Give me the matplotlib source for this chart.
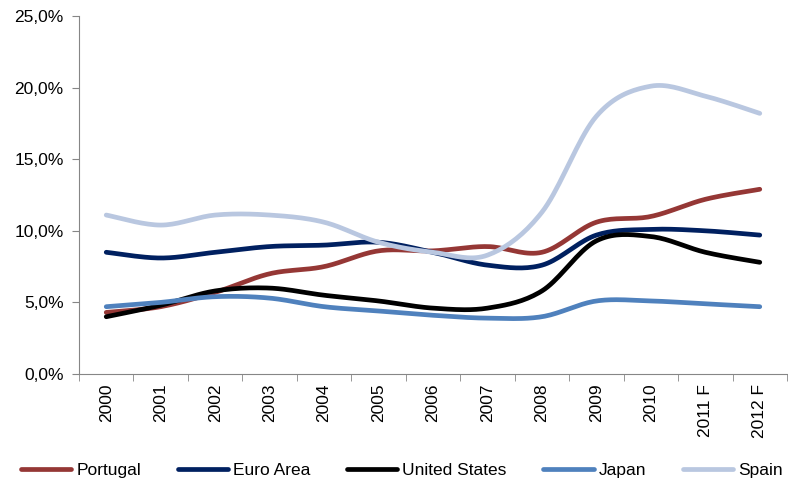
import numpy as np
import matplotlib.pyplot as plt
from matplotlib.ticker import FuncFormatter

years = ["2000", "2001", "2002", "2003", "2004", "2005", "2006", "2007",
         "2008", "2009", "2010", "2011 F", "2012 F"]
portugal = [4.3, 4.7, 5.7, 7.0, 7.5, 8.6, 8.6, 8.9, 8.5, 10.6, 11.0, 12.2, 12.9]
euro_area = [8.5, 8.1, 8.5, 8.9, 9.0, 9.2, 8.5, 7.6, 7.6, 9.7, 10.1, 10.0, 9.7]
united_states = [4.0, 4.8, 5.8, 6.0, 5.5, 5.1, 4.6, 4.6, 5.8, 9.3, 9.6, 8.5, 7.8]
japan = [4.7, 5.0, 5.4, 5.3, 4.7, 4.4, 4.1, 3.9, 4.0, 5.1, 5.1, 4.9, 4.7]
spain = [11.1, 10.4, 11.1, 11.1, 10.6, 9.2, 8.5, 8.3, 11.3, 18.0, 20.1, 19.4, 18.2]

series = [
    ("Portugal", portugal, "#953735"),
    ("Euro Area", euro_area, "#002060"),
    ("United States", united_states, "black"),
    ("Japan", japan, "#4F81BD"),
    ("Spain", spain, "#B9C7E0"),
]


def smooth(x, y, n=20):
    # Excel-style smoothed line: cubic bezier with catmull-rom control points
    x = np.asarray(x, float)
    y = np.asarray(y, float)
    px = np.concatenate([[x[0]], x, [x[-1]]])
    py = np.concatenate([[y[0]], y, [y[-1]]])
    xs, ys = [], []
    t = np.linspace(0, 1, n)
    for i in range(len(x) - 1):
        p0 = np.array([px[i + 1], py[i + 1]])
        p3 = np.array([px[i + 2], py[i + 2]])
        c1 = p0 + (np.array([px[i + 2], py[i + 2]]) - np.array([px[i], py[i]])) / 6
        c2 = p3 - (np.array([px[i + 3], py[i + 3]]) - np.array([px[i + 1], py[i + 1]])) / 6
        b = ((1 - t) ** 3)[:, None] * p0 + (3 * (1 - t) ** 2 * t)[:, None] * c1 \
            + (3 * (1 - t) * t ** 2)[:, None] * c2 + (t ** 3)[:, None] * p3
        xs.extend(b[:, 0])
        ys.extend(b[:, 1])
    return np.array(xs), np.array(ys)


plt.rcParams['font.family'] = ['Liberation Sans', 'DejaVu Sans']

fig = plt.figure(figsize=(7.88, 4.86), dpi=100)
ax = fig.add_axes([79 / 788, 1 - 374 / 486, 708 / 788, 358 / 486])

x = np.arange(len(years))
for name, vals, col in series:
    sx, sy = smooth(x, vals)
    ax.plot(sx, sy, color=col, lw=3.4, label=name, solid_capstyle="round")

ax.set_xlim(-0.5, len(years) - 0.5)
ax.set_ylim(0, 25)
ax.set_yticks(np.arange(0, 26, 5))
ax.yaxis.set_major_formatter(FuncFormatter(lambda v, p: f"{v:.1f}%".replace(".", ",")))
ax.set_xticks(x)
ax.set_xticklabels(years, rotation=90)
ax.set_xticks(np.arange(-0.5, len(years), 1), minor=True)
ax.tick_params(axis="x", which="major", length=0, pad=7, labelsize=12.5)
ax.tick_params(axis="x", which="minor", length=5, color="#868686", direction="out")
ax.tick_params(axis="y", length=5, color="#868686", labelsize=12.5, pad=6)

for s in ["top", "right"]:
    ax.spines[s].set_visible(False)
for s in ["left", "bottom"]:
    ax.spines[s].set_color("#868686")

fig.legend(loc="lower center", bbox_to_anchor=(0.51, -0.015), ncol=5, frameon=False,
           fontsize=12.5, handlelength=2.9, columnspacing=2.1, handletextpad=0.3)

fig.savefig("out.png", dpi=100)
